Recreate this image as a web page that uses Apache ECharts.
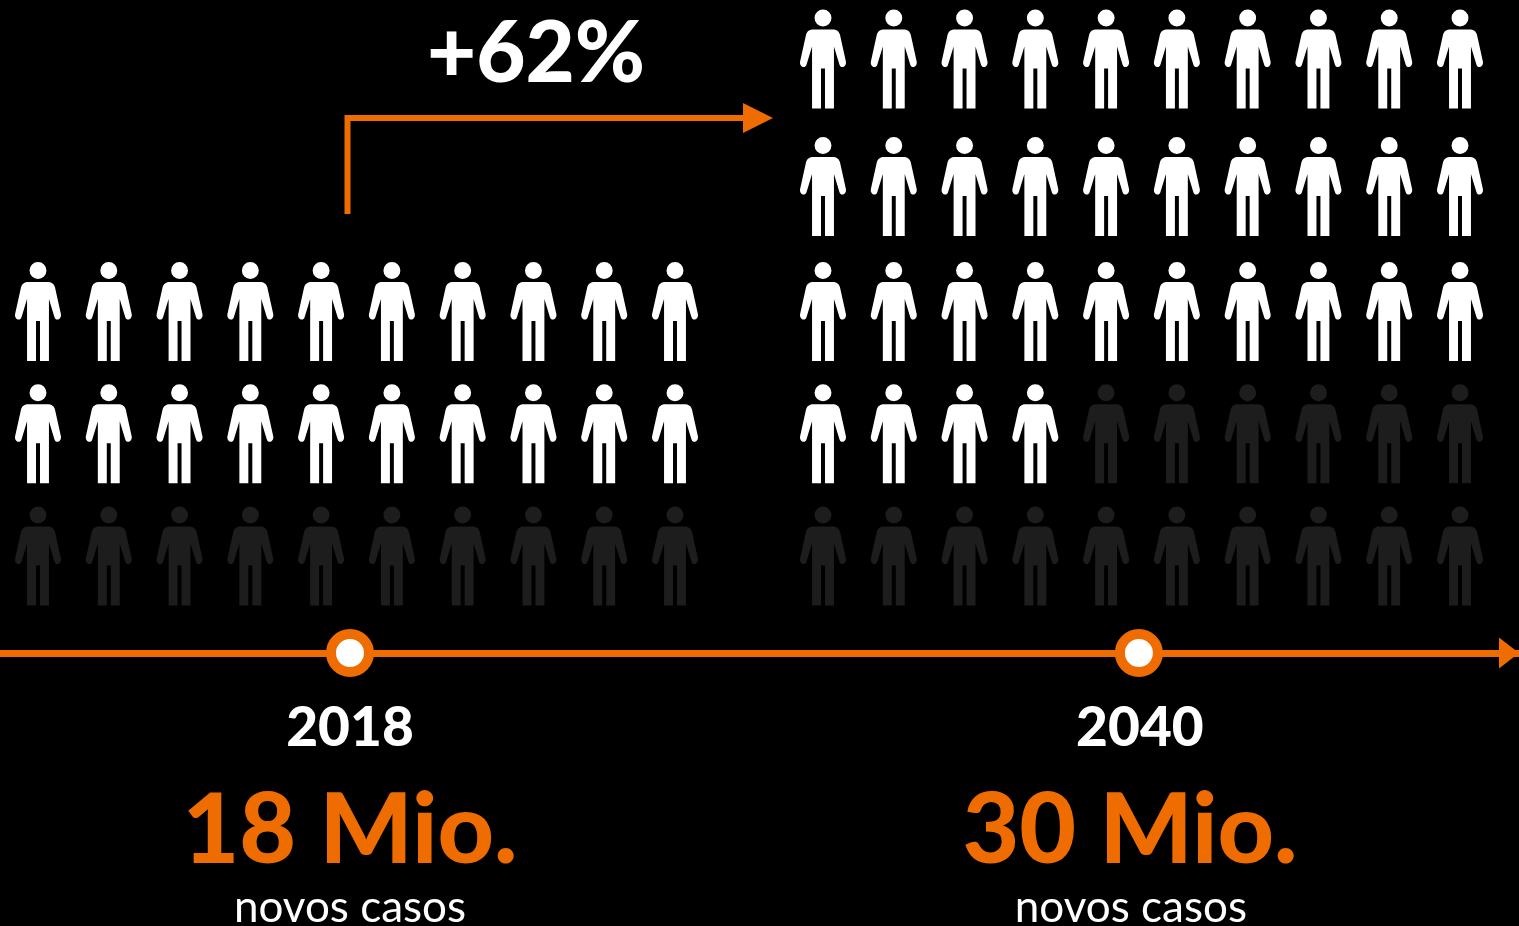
<!DOCTYPE html>
<html>
<head>
<meta charset="utf-8">
<title>Novos casos</title>
<style>
  html, body { margin: 0; padding: 0; background: #000; overflow: hidden; }
  #chart { width: 1519px; height: 926px; }
</style>
<script src="https://cdn.jsdelivr.net/npm/echarts@6/dist/echarts.min.js"></script>
</head>
<body>
<div id="chart"></div>
<script>
// dados
const years = [2018, 2040];
const totals = ['18 Mio.', '30 Mio.'];
const notes = ['novos casos', 'novos casos'];
const growth = '+62%';
const columns = [0, 1, 2, 3, 4, 5, 6, 7, 8, 9];
const rows2018 = [0, 1, 2];
const rows2040 = [0, 1, 2, 3, 4];
const filled2018 = 20;
const filled2040 = 34;

const ORANGE = '#ee6c00';
const DIM = '#1d1d1d';
const FONT = 'Lato';
// boneco: caixa de 46 x 99
const PERSON = 'path://M23 0a8.5 8.5 0 1 1 0 17a8.5 8.5 0 1 1 0-17ZM14 20L32 20C37 20 39 22 40 25L46 52C47 57 41 60 39.5 55L34 37L34 99L25 99L25 59L21 59L21 99L12 99L12 37L6.5 55C5 60 -1 57 0 52L6 25C7 22 9 20 14 20Z';

// uma celula por pessoa: coluna, linha, branca ou apagada
function cells(rows, filled) {
  const out = [];
  rows.forEach((r, ri) => {
    columns.forEach((c, ci) => {
      const on = ri * columns.length + ci < filled;
      out.push({ value: [c, r], itemStyle: { color: on ? '#fff' : DIM, opacity: 1 } });
    });
  });
  return out;
}

const all2040 = cells(rows2040, filled2040);
// as duas linhas de cima do bloco 2040 estao um pouco mais afastadas
const panels = [
  { left: 38, top: 311.5, height: 244.5, rows: 3, data: cells(rows2018, filled2018) },
  { left: 823, top: 59, height: 127.5, rows: 2, data: all2040.filter(d => d.value[1] < 2) },
  { left: 823, top: 311.5, height: 244.5, rows: 3, data: all2040.filter(d => d.value[1] >= 2).map(d => ({ ...d, value: [d.value[0], d.value[1] - 2] })) }
];

const grid = panels.map(p => ({ left: p.left, top: p.top, width: 637, height: p.height }));
const xAxis = panels.map((p, i) => ({ gridIndex: i, type: 'value', min: 0, max: 9, show: false }));
const yAxis = panels.map((p, i) => ({ gridIndex: i, type: 'value', min: 0, max: p.rows - 1, inverse: true, show: false }));
const series = panels.map((p, i) => ({
  type: 'scatter',
  xAxisIndex: i,
  yAxisIndex: i,
  symbol: PERSON,
  symbolSize: [46, 99],
  silent: true,
  data: p.data
}));

// linha do tempo
const line = panels.length;
grid.push({ left: 0, right: 0, top: 633, height: 40 });
xAxis.push({
  gridIndex: line,
  type: 'value',
  min: 2008.24,
  max: 2050.6,
  axisLine: {
    onZero: true,
    symbol: ['none', 'triangle'],
    symbolSize: [31, 20],
    symbolOffset: [0, -10],
    lineStyle: { color: ORANGE, width: 7 }
  },
  axisTick: { show: false },
  axisLabel: { show: false },
  splitLine: { show: false }
});
yAxis.push({ gridIndex: line, type: 'value', min: -1, max: 1, show: false });

series.push({
  type: 'scatter',
  xAxisIndex: line,
  yAxisIndex: line,
  symbol: 'circle',
  symbolSize: 38,
  z: 5,
  silent: true,
  itemStyle: { color: '#fff', borderColor: ORANGE, borderWidth: 10, opacity: 1 },
  data: years.map(y => [y, 0])
});

function textSeries(texts, style, dy, dxRight) {
  return {
    type: 'scatter',
    xAxisIndex: line,
    yAxisIndex: line,
    symbolSize: 0,
    silent: true,
    itemStyle: { opacity: 1 },
    data: years.map((y, i) => ({
      value: [y, 0],
      label: {
        show: true,
        position: 'inside',
        formatter: texts[i],
        offset: [i ? dxRight : 0, dy],
        fontFamily: FONT,
        ...style
      }
    }))
  };
}
series.push(textSeries(years.map(String), { color: '#fff', fontSize: 55, fontWeight: 900 }, 75, 1));
series.push(textSeries(totals, { color: ORANGE, fontSize: 98, fontWeight: 900 }, 178, -9));
series.push(textSeries(notes, { color: '#fff', fontSize: 44 }, 255, -8));

const chart = echarts.init(document.getElementById('chart'));
chart.setOption({
  backgroundColor: '#000',
  animation: false,
  grid,
  xAxis,
  yAxis,
  series,
  graphic: [
    {
      type: 'polyline',
      silent: true,
      shape: { points: [[347.5, 214], [347.5, 118], [745, 118]] },
      style: { stroke: ORANGE, lineWidth: 6, fill: null, lineJoin: 'miter' }
    },
    {
      type: 'polygon',
      silent: true,
      shape: { points: [[743, 103], [773, 118], [743, 133]] },
      style: { fill: ORANGE }
    },
    {
      type: 'text',
      silent: true,
      x: 536,
      y: 55,
      style: {
        text: growth,
        fill: '#fff',
        font: '900 85px ' + FONT,
        align: 'center',
        verticalAlign: 'middle'
      }
    }
  ]
});
</script>
</body>
</html>
